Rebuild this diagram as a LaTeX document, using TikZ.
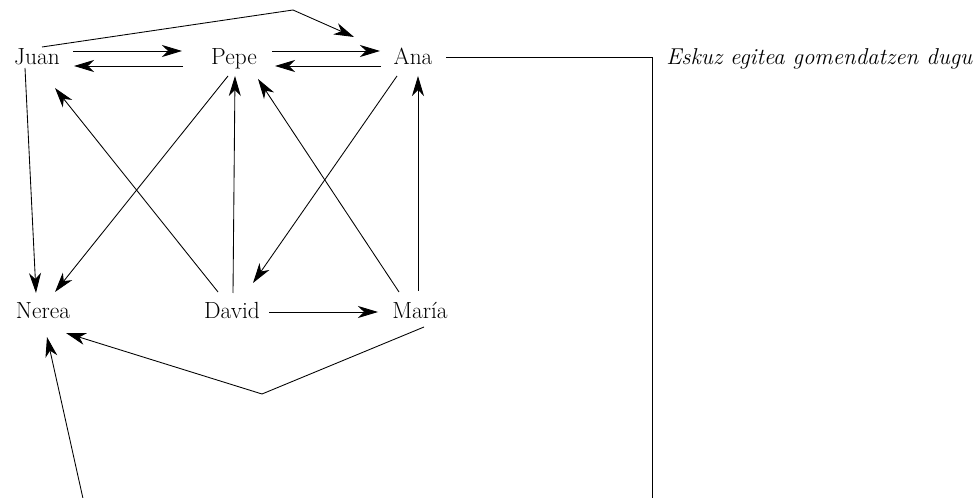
\documentclass[tikz,border=0pt]{standalone}
\usetikzlibrary{arrows.meta}
\begin{document}
\begin{tikzpicture}[x=0.75pt,y=-0.75pt,
  nm/.style={inner sep=0pt,anchor=base,font=\fontsize{17.5}{21}\selectfont},
  arr/.style={line width=0.65pt,-{Stealth[length=15pt,width=9pt,inset=4.5pt]}},
  ln/.style={line width=0.65pt}]
\useasboundingbox (0,0) rectangle (980,498);
\node[nm] (juan) at (37,65) {Juan};
\node[nm] (pepe) at (234,65) {Pepe};
\node[nm] (ana) at (413,65) {Ana};
\node[nm] (nerea) at (43,319) {Nerea};
\node[nm] (david) at (232,319) {David};
\node[nm] (maria) at (420,319) {María};
\node[nm,anchor=base west,font=\fontsize{17.2}{21}\selectfont\itshape] (note) at (666,65) {Eskuz egitea gomendatzen dugu};
\coordinate (topc) at (293,10);
\coordinate (midc) at (262,394);
\coordinate (rc) at (652,57);
\coordinate (rb) at (652,530);
\coordinate (lb) at (90,530);
% top row
\draw[arr] ([shift={(36,-14)}]juan.base) -- ([shift={(-52,-14)}]pepe.base);
\draw[arr] ([shift={(-51,1)}]pepe.base) -- ([shift={(37,1)}]juan.base);
\draw[arr] ([shift={(38,-14)}]pepe.base) -- ([shift={(-33,-14)}]ana.base);
\draw[arr] ([shift={(-32,1)}]ana.base) -- ([shift={(41,1)}]pepe.base);
\draw[arr] ([shift={(5,-18)}]juan.base) -- (topc) -- ([shift={(-59,-28)}]ana.base);
% verticals / diagonals
\draw[arr] ([shift={(-12,3)}]juan.base) -- ([shift={(-7,-26)}]nerea.base);
\draw[arr] ([shift={(-6,11)}]pepe.base) -- ([shift={(12,-27)}]nerea.base);
\draw[arr] ([shift={(1,-26)}]david.base) -- ([shift={(1,11)}]pepe.base);
\draw[arr] ([shift={(-14,-27)}]david.base) -- ([shift={(18,23)}]juan.base);
\draw[arr] ([shift={(-16,11)}]ana.base) -- ([shift={(21,-36)}]david.base);
\draw[arr] ([shift={(-21,-27)}]maria.base) -- ([shift={(24,14)}]pepe.base);
\draw[arr] ([shift={(-2,-28)}]maria.base) -- ([shift={(5,11)}]ana.base);
\draw[arr] ([shift={(37,-7)}]david.base) -- ([shift={(-42,-7)}]maria.base);
\draw[arr] ([shift={(4,8)}]maria.base) -- (midc) -- ([shift={(23,14)}]nerea.base);
% long connector
\draw[ln] ([shift={(33,-8)}]ana.base) -- (rc) -- (rb) -- (lb);
\draw[arr] (lb) -- ([shift={(4,18)}]nerea.base);
\end{tikzpicture}
\end{document}
